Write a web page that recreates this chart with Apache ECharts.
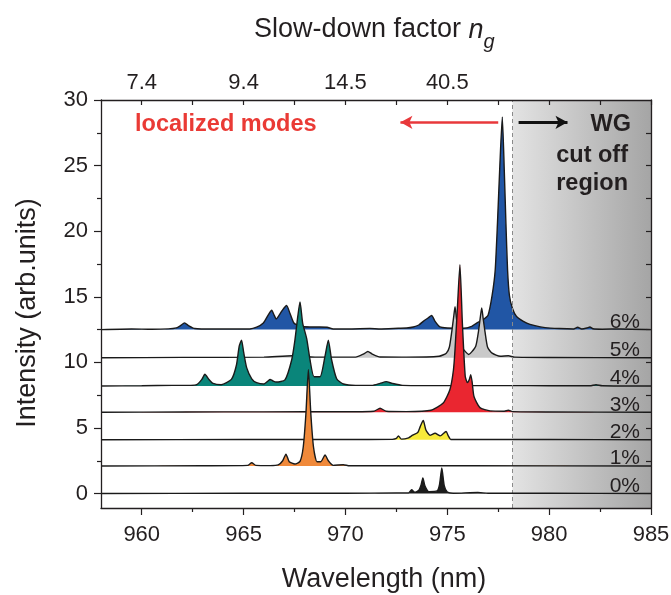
<!DOCTYPE html>
<html><head><meta charset="utf-8">
<script src="https://cdn.jsdelivr.net/npm/echarts@6/dist/echarts.min.js"></script>
<style>html,body{margin:0;padding:0;background:#fff}#c{width:671px;height:595px}</style>
</head><body><div id="c"></div>
<script>
// ---------- data ----------
const dopings = ['0%', '1%', '2%', '3%', '4%', '5%', '6%'];
const offsets = [0, 2.1, 4.1, 6.2, 8.2, 10.35, 12.5];
const fillColors = ['#1c1c1c', '#f0893a', '#f7ea3b', '#ea2630', '#0a857a', '#c9c9c9', '#2156a5'];

// 0% (black)
const wl0 = [958, 965, 970, 972.5, 973.1, 973.25, 973.4, 973.6, 973.72, 973.8, 973.9, 974.1, 974.5, 974.62, 974.73, 974.85, 975.0, 975.3, 976.5, 977, 980, 985];
const int0 = [0, 0.02, 0.02, 0.05, 0.05, 0.3, 0.1, 0.25, 0.7, 1.2, 0.6, 0.15, 0.2, 0.7, 1.95, 0.6, 0.12, 0.03, 0.08, 0.02, 0.02, 0];
// 1% (orange)
const wl1 = [958, 963, 965.2, 965.4, 965.6, 966.3, 966.7, 966.92, 967.08, 967.24, 967.52, 967.77, 967.93, 968.06, 968.18, 968.3, 968.43, 968.6, 968.79, 969.0, 969.16, 969.4, 969.9, 970.2, 972, 976, 985];
const int1 = [0, 0.02, 0.05, 0.25, 0.05, 0.03, 0.08, 0.4, 0.91, 0.33, 0.15, 0.35, 1.47, 4.0, 7.36, 4.0, 1.47, 0.33, 0.33, 0.84, 0.4, 0.05, 0.1, 0.02, 0.02, 0.02, 0];
// 2% (yellow)
const wl2 = [958, 965, 970, 972.3, 972.5, 972.6, 972.75, 973.1, 973.3, 973.55, 973.67, 973.82, 973.95, 974.15, 974.4, 974.65, 974.94, 975.05, 975.17, 976, 980, 985];
const int2 = [0, 0.02, 0.02, 0.03, 0.1, 0.3, 0.05, 0.15, 0.35, 0.55, 1.0, 1.47, 0.75, 0.35, 0.5, 0.3, 0.63, 0.3, 0.02, 0.02, 0.02, 0];
// 3% (red)
const wl3 = [958, 962, 966, 970, 971.4, 971.7, 972.0, 973, 974.2, 974.8, 975.13, 975.3, 975.38, 975.5, 975.62, 975.74, 975.88, 975.99, 976.08, 976.15, 976.22, 976.31, 976.6, 977.1, 977.8, 978.0, 978.2, 980, 985];
const int3 = [0, 0.02, 0.03, 0.04, 0.08, 0.3, 0.08, 0.05, 0.15, 0.7, 1.73, 3.2, 4.8, 8.07, 11.25, 6.8, 2.74, 2.26, 2.5, 2.87, 2.3, 1.2, 0.35, 0.1, 0.08, 0.15, 0.05, 0.02, 0];
// 4% (teal)
const wl4 = [958, 960, 961.5, 962.4, 962.7, 962.95, 963.1, 963.3, 963.5, 963.9, 964.4, 964.65, 964.78, 964.9, 965.0, 965.15, 965.4, 965.64, 966.0, 966.2, 966.3, 966.45, 966.6, 967.03, 967.36, 967.52, 967.66, 967.77, 967.9, 968.1, 968.26, 968.46, 968.75, 969.0, 969.16, 969.32, 969.57, 969.9, 970.5, 971.3, 971.7, 972.0, 972.3, 972.8, 974, 976, 978, 980, 982, 982.3, 982.6, 985];
const int4 = [0, 0.02, 0.05, 0.05, 0.1, 0.5, 0.89, 0.5, 0.2, 0.1, 0.5, 1.6, 3.0, 3.5, 2.6, 1.4, 0.55, 0.25, 0.15, 0.38, 0.5, 0.38, 0.3, 0.46, 1.98, 3.5, 5.3, 6.4, 4.8, 3.6, 2.0, 0.7, 0.7, 2.3, 3.5, 2.0, 0.55, 0.15, 0.05, 0.05, 0.2, 0.33, 0.2, 0.05, 0.03, 0.03, 0.03, 0.02, 0.02, 0.1, 0.02, 0];
// 5% (grey)
const wl5 = [958, 962, 966, 967.4, 968.5, 970.5, 970.9, 971.1, 971.3, 971.7, 973, 974.6, 974.95, 975.1, 975.22, 975.32, 975.38, 975.45, 975.54, 975.68, 975.9, 976.05, 976.2, 976.4, 976.53, 976.63, 976.69, 976.76, 976.85, 976.98, 977.2, 977.6, 978.0, 978.3, 980, 985];
const int5 = [0, 0.03, 0.05, 0.15, 0.05, 0.05, 0.3, 0.48, 0.3, 0.06, 0.05, 0.12, 0.35, 0.8, 2.0, 3.2, 3.9, 3.0, 2.0, 0.9, 0.45, 0.25, 0.45, 0.9, 2.0, 3.2, 3.8, 3.0, 2.0, 0.8, 0.35, 0.12, 0.15, 0.05, 0.02, 0];
// 6% (blue)
const wl6 = [958, 959.5, 960.5, 961.3, 961.7, 961.9, 962.1, 962.3, 962.6, 963.5, 964.5, 965.3, 965.64, 965.97, 966.22, 966.38, 966.5, 966.6, 966.87, 967.11, 967.27, 967.47, 967.77, 968.26, 968.75, 969.1, 969.4, 970.2, 971.2, 971.7, 972.6, 973.0, 973.33, 973.6, 973.82, 974.07, 974.23, 974.4, 974.64, 975.0, 975.79, 976.2, 976.44, 976.7, 977.0, 977.2, 977.35, 977.46, 977.58, 977.7, 977.8, 977.88, 977.96, 978.05, 978.2, 978.4, 978.9, 979.3, 979.8, 980.5, 981.2, 981.4, 981.6, 981.85, 982.0, 982.15, 982.6, 983.5, 985];
const int6 = [0, 0.05, 0.02, 0.05, 0.13, 0.3, 0.51, 0.3, 0.08, 0.04, 0.05, 0.05, 0.18, 0.5, 1.14, 1.47, 1.1, 0.81, 1.4, 1.83, 1.27, 0.5, 0.25, 0.2, 0.2, 0.18, 0.05, 0.05, 0.08, 0.05, 0.1, 0.12, 0.2, 0.35, 0.63, 0.9, 1.07, 0.63, 0.2, 0.12, 0.1, 0.25, 0.5, 0.7, 1.1, 2.6, 4.5, 8, 12.5, 16.2, 12, 8, 4.5, 2.6, 1.6, 1.0, 0.5, 0.3, 0.15, 0.08, 0.05, 0.18, 0.05, 0.12, 0.2, 0.06, 0.03, 0.05, 0];

const wavelengths = [wl0, wl1, wl2, wl3, wl4, wl5, wl6];
const intensities = [int0, int1, int2, int3, int4, int5, int6];

// axes
const xMin = 958, xMax = 985;
const yMin = -1.1, yMax = 30;
const xTicks = [960, 965, 970, 975, 980, 985];
const xMinorTicks = [962.5, 967.5, 972.5, 977.5, 982.5];
const xAllTicks = [960, 962.5, 965, 967.5, 970, 972.5, 975, 977.5, 980, 982.5, 985];
const topTickValues = [960, 965, 970, 975];
const topTickLabels = ['7.4', '9.4', '14.5', '40.5'];
const yTicks = [0, 5, 10, 15, 20, 25, 30];
const yMinorTicks = [2.5, 7.5, 12.5, 17.5, 22.5, 27.5];
const yAllTicks = [2.5, 5, 7.5, 10, 12.5, 15, 17.5, 20, 22.5, 25, 27.5];
const cutoffStart = 978.2;
const arrowY = 28.3;
const redArrow = [977.5, 972.7];
const blackArrow = [978.5, 980.9];

// ---------- chart ----------
const FONT = '"Liberation Sans", Arial, Helvetica, sans-serif';
const INK = '#231f20';
const chart = echarts.init(document.getElementById('c'), null, {renderer: 'canvas'});

const axisLine = {show: true, onZero: false, lineStyle: {color: INK, width: 1.3}};
function xAx(pos, ticks, len, inside, labels, fmt, showLine, margin) {
  return {
    type: 'value', position: pos, min: xMin, max: xMax, z: 60,
    axisLine: showLine ? axisLine : {show: false, onZero: false},
    axisTick: {show: true, customValues: ticks, length: len, inside: inside, lineStyle: {color: INK, width: 1.2}},
    axisLabel: labels ? {show: true, customValues: labels, formatter: fmt, fontSize: 22, fontFamily: FONT, color: INK, margin: margin} : {show: false},
    splitLine: {show: false}, minorTick: {show: false}
  };
}
function yAx(pos, ticks, len, inside, labels, showLine) {
  return {
    type: 'value', position: pos, min: yMin, max: yMax, z: 60,
    axisLine: showLine ? axisLine : {show: false, onZero: false},
    axisTick: {show: true, customValues: ticks, length: len, inside: inside, lineStyle: {color: INK, width: 1.2}},
    axisLabel: labels ? {show: true, customValues: labels, fontSize: 22, fontFamily: FONT, color: INK, margin: 13} : {show: false},
    splitLine: {show: false}
  };
}

const series = [];
// background: cut-off region and its dashed border
series.push({
  type: 'line', data: [], xAxisIndex: 0, yAxisIndex: 0, z: 1, silent: true,
  markArea: {
    silent: true,
    itemStyle: {color: new echarts.graphic.LinearGradient(0, 0, 1, 0, [{offset: 0, color: '#e3e3e3'}, {offset: 1, color: '#a5a5a5'}])},
    data: [[{xAxis: cutoffStart}, {xAxis: xMax}]]
  },
  markLine: {
    silent: true, symbol: 'none', label: {show: false},
    lineStyle: {color: '#8a8a8a', width: 1, type: [4, 3]},
    data: [{xAxis: cutoffStart}]
  }
});
// arrows
series.push({
  type: 'line', data: [], xAxisIndex: 0, yAxisIndex: 0, z: 30, silent: true,
  markLine: {
    silent: true, symbol: ['none', 'arrow'], symbolSize: [10, 12], label: {show: false},
    data: [
      [{coord: [redArrow[0], arrowY], lineStyle: {color: '#e8383b', width: 2.6, type: 'solid'}}, {coord: [redArrow[1], arrowY]}],
      [{coord: [blackArrow[0], arrowY], lineStyle: {color: '#111111', width: 3, type: 'solid'}}, {coord: [blackArrow[1], arrowY]}]
    ]
  }
});
for (let i = dopings.length - 1; i >= 0; i--) {
  const off = offsets[i];
  series.push({
    name: dopings[i], type: 'line', xAxisIndex: 0, yAxisIndex: 0,
    z: 2 + (dopings.length - 1 - i),
    showSymbol: false, symbol: 'none', smooth: 0.2, silent: true,
    data: wavelengths[i].map((w, k) => [w, off + intensities[i][k]]),
    lineStyle: {color: '#1a1a1a', width: 1.4},
    areaStyle: {color: fillColors[i], opacity: 1, origin: off}
  });
}

chart.setOption({
  animation: false,
  backgroundColor: '#fff',
  grid: {left: 101, right: 20, top: 100, bottom: 87, containLabel: false, outerBoundsMode: 'none'},
  xAxis: [
    xAx('bottom', xTicks, 7, false, xTicks, v => String(v), true, 16),
    xAx('bottom', xMinorTicks, 4, false, null, null, false, 0),
    xAx('top', xAllTicks, 5, true, topTickValues, v => {
      let best = 0;
      topTickValues.forEach((t, k) => { if (Math.abs(t - v) < Math.abs(topTickValues[best] - v)) best = k; });
      return topTickLabels[best];
    }, true, 6)
  ],
  yAxis: [
    yAx('left', yTicks, 7, false, yTicks, true),
    yAx('left', yMinorTicks, 4, false, null, false),
    yAx('right', yAllTicks, 5, true, null, true)
  ],
  series: series
});

// ---------- text annotations ----------
const cv = document.createElement('canvas').getContext('2d');
cv.font = '27px "Liberation Sans"';
const titleMain = 'Slow-down factor ';
const wMain = cv.measureText(titleMain).width;
cv.font = 'italic 27px "Liberation Sans"';
const wN = cv.measureText('n').width;
const titleX = 254;

const T = (text, x, y, size, extra) => Object.assign({type: 'text', x: x, y: y, z: 100, silent: true,
  style: Object.assign({text: text, fontSize: size, fontFamily: FONT, fill: INK, align: 'left', verticalAlign: 'middle'}, extra || {})});
const graphics = [
  T(titleMain, titleX, 30, 27),
  T('n', titleX + wMain, 30, 27, {fontStyle: 'italic'}),
  T('g', titleX + wMain + wN, 42, 20, {fontStyle: 'italic'}),
  T('Wavelength (nm)', 384, 580, 27, {align: 'center'}),
  Object.assign(T('Intensity (arb.units)', 28, 313, 27, {align: 'center'}), {rotation: Math.PI / 2}),
  T('localized modes', 135, 125, 23.5, {fontWeight: 'bold', fill: '#ea3a35'}),
  T('WG', 631, 125, 23.5, {fontWeight: 'bold', align: 'right'}),
  T('cut off', 628, 156, 23.5, {fontWeight: 'bold', align: 'right'}),
  T('region', 628, 184, 23.5, {fontWeight: 'bold', align: 'right'})
];
dopings.forEach((d, i) => {
  const py = chart.convertToPixel({yAxisIndex: 0}, offsets[i]);
  graphics.push(T(d, 640, py - 7.5, 21, {align: 'right'}));
});
chart.setOption({graphic: graphics});
</script>
</body></html>
